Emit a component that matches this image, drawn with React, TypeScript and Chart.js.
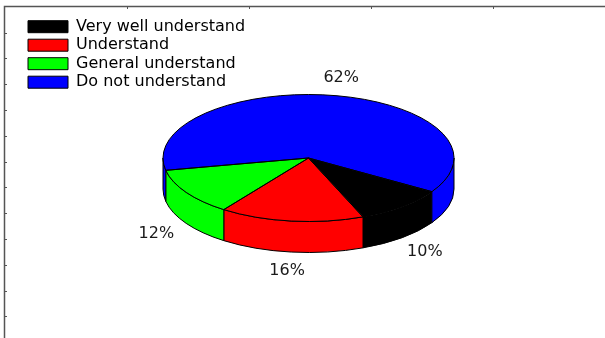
import React, { useEffect, useRef } from 'react';
import { Chart, registerables } from 'chart.js';

Chart.register(...registerables);

const categories = ['Very well understand', 'Understand', 'General understand', 'Do not understand'];
const values = [10, 16, 12, 62];
const colors = ['#000000', '#ff0000', '#00ff00', '#0000ff'];
const percentLabels = ['10%', '16%', '12%', '62%'];

const FLAT = 0.4364;
const DEPTH = 31;
const LABEL_RX = 181;
const LABEL_RY = 82;

const pie3d = {
  id: 'pie3d',
  beforeDraw(chart: any) {
    const lg = chart.legend;
    if (lg) {
      const h = lg.bottom - lg.top;
      lg.top = chart.chartArea.top;
      lg.bottom = lg.top + h;
    }
    const ctx = chart.ctx;
    ctx.save();
    ctx.strokeStyle = '#555555';
    ctx.lineWidth = 1.5;
    ctx.beginPath();
    ctx.moveTo(4.5, 338);
    ctx.lineTo(4.5, 6.5);
    ctx.lineTo(605, 6.5);
    ctx.stroke();
    ctx.lineWidth = 1;
    ctx.beginPath();
    for (let k = 1; k <= 12; k++) {
      const y = Math.round(6.8 + 25.8 * k) + 0.5;
      ctx.moveTo(4.5, y);
      ctx.lineTo(7, y);
    }
    for (let k = 1; k <= 4; k++) {
      const x = Math.round(4.6 + 122 * k) + 0.5;
      ctx.moveTo(x, 6.5);
      ctx.lineTo(x, 9);
    }
    ctx.stroke();
    ctx.restore();
  },
  beforeDatasetsDraw(chart: any) {
    const meta = chart.getDatasetMeta(0);
    const arcs = meta.data;
    const ctx = chart.ctx;
    chart.$pieSaved = false;
    if (!arcs.length) return;
    const p0 = arcs[0].getProps(['x', 'y', 'outerRadius'], true);
    const cx = p0.x, cy = p0.y, rx = p0.outerRadius, ry = rx * FLAT;
    ctx.save();
    ctx.lineWidth = 1;
    ctx.strokeStyle = '#000';
    ctx.lineJoin = 'round';
    arcs.forEach((arc: any, i: number) => {
      const p = arc.getProps(['startAngle', 'endAngle'], true);
      for (let k = -1; k <= 2; k++) {
        const lo = Math.max(p.startAngle, 2 * Math.PI * k);
        const hi = Math.min(p.endAngle, 2 * Math.PI * k + Math.PI);
        if (hi > lo) {
          ctx.beginPath();
          ctx.ellipse(cx, cy, rx, ry, 0, lo, hi, false);
          ctx.ellipse(cx, cy + DEPTH, rx, ry, 0, hi, lo, true);
          ctx.closePath();
          ctx.fillStyle = colors[i];
          ctx.fill();
          ctx.stroke();
        }
      }
    });
    ctx.restore();
    ctx.save();
    ctx.translate(cx, cy);
    ctx.scale(1, FLAT);
    ctx.translate(-cx, -cy);
    chart.$pieSaved = true;
  },
  afterDatasetsDraw(chart: any) {
    const ctx = chart.ctx;
    if (!chart.$pieSaved) return;
    ctx.restore();
    chart.$pieSaved = false;
    const arcs = chart.getDatasetMeta(0).data;
    const p0 = arcs[0].getProps(['x', 'y', 'outerRadius'], true);
    const cx = p0.x, cy = p0.y, rx = p0.outerRadius, ry = rx * FLAT;
    ctx.save();
    ctx.lineWidth = 1;
    ctx.strokeStyle = '#000';
    ctx.lineJoin = 'round';
    arcs.forEach((arc: any) => {
      const p = arc.getProps(['startAngle', 'endAngle'], true);
      ctx.beginPath();
      ctx.moveTo(cx, cy);
      ctx.ellipse(cx, cy, rx, ry, 0, p.startAngle, p.endAngle, false);
      ctx.closePath();
      ctx.stroke();
    });
    ctx.fillStyle = '#1a1a1a';
    ctx.font = '16px "DejaVu Sans"';
    ctx.textAlign = 'center';
    ctx.textBaseline = 'middle';
    arcs.forEach((arc: any, i: number) => {
      const p = arc.getProps(['startAngle', 'endAngle'], true);
      const m = (p.startAngle + p.endAngle) / 2;
      const s = Math.sin(m);
      const x = cx + Math.cos(m) * LABEL_RX;
      const y = cy + s * LABEL_RY + (s > 0 ? DEPTH : 0);
      ctx.fillText(percentLabels[i], x, y);
    });
    ctx.restore();
  },
};

export default function App() {
  const ref = useRef<HTMLCanvasElement | null>(null);
  useEffect(() => {
    const canvas = ref.current;
    if (!canvas) return;
    const chart = new Chart(canvas, {
      type: 'pie',
      data: {
        labels: categories,
        datasets: [
          {
            data: values,
            backgroundColor: colors,
            borderWidth: 0,
            clip: false as any,
          },
        ],
      },
      options: {
        responsive: false,
        animation: false,
        devicePixelRatio: 1,
        events: [],
        rotation: 122,
        radius: 145.5,
        layout: { padding: { left: 25.5, right: 13.5, top: 16.2, bottom: 38.2 } },
        plugins: {
          tooltip: { enabled: false },
          legend: {
            position: 'chartArea' as any,
            align: 'start',
            labels: {
              boxWidth: 40,
              boxHeight: 12,
              padding: 2.5,
              color: '#000',
              font: { family: '"DejaVu Sans"', size: 16 },
              generateLabels: (c: any) => {
                const items = (Chart as any).overrides.doughnut.plugins.legend.labels.generateLabels(c);
                return items.map((it: any) => ({ ...it, lineWidth: 1, strokeStyle: '#000' }));
              },
            },
          },
        },
      } as any,
      plugins: [pie3d],
    });
    return () => chart.destroy();
  }, []);
  return (
    <div style={{ position: 'fixed', left: 0, top: 0, width: 605, height: 338, background: '#fff' }}>
      <canvas ref={ref} width={605} height={338} style={{ display: 'block' }} />
    </div>
  );
}
